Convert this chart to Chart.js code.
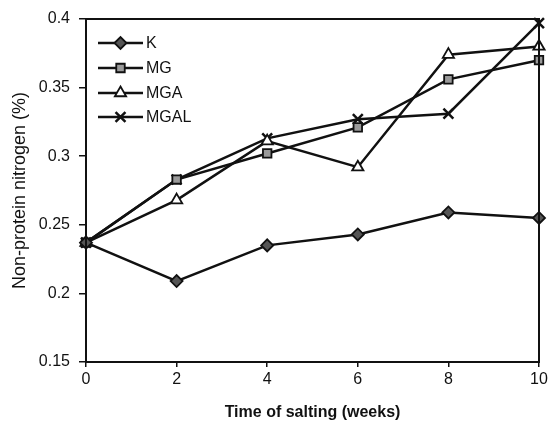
<!DOCTYPE html>
<html>
<head>
<meta charset="utf-8">
<script src="https://cdn.jsdelivr.net/npm/chart.js@4/dist/chart.umd.min.js"></script>
<style>
  html, body { margin: 0; padding: 0; background: #fff; }
  #wrap { width: 551px; height: 423px; }
</style>
</head>
<body>
<div id="wrap"><canvas id="chart" width="551" height="423"></canvas></div>
<script>
// values
const weeks = [0, 2, 4, 6, 8, 10];
const seriesNames = ['K', 'MG', 'MGA', 'MGAL'];
const valuesK = [0.237, 0.209, 0.235, 0.243, 0.259, 0.255];
const valuesMG = [0.237, 0.283, 0.302, 0.321, 0.356, 0.370];
const valuesMGA = [0.237, 0.268, 0.311, 0.292, 0.374, 0.380];
const valuesMGAL = [0.237, 0.283, 0.313, 0.327, 0.331, 0.397];
const yTickLabels = ['0.15', '0.2', '0.25', '0.3', '0.35', '0.4'];
const xTickLabels = ['0', '2', '4', '6', '8', '10'];

const FONT = "'Liberation Sans', Arial, sans-serif";
const INK = '#111';

/**
 * Marker look for each series, same order as seriesNames.
 */
const markers = [
    { pointStyle: 'rectRot', radius: 6, fill: '#555' },
    { pointStyle: 'rect', radius: 6, fill: '#9a9a9a' },
    { pointStyle: 'triangle', radius: 6.5, fill: '#fff' },
    { pointStyle: 'crossRot', radius: 7, fill: '#fff' }
];

const seriesValues = [valuesK, valuesMG, valuesMGA, valuesMGAL];

const datasets = seriesNames.map((name, i) => ({
    label: name,
    data: weeks.map((w, j) => ({ x: w, y: seriesValues[i][j] })),
    borderColor: INK,
    borderWidth: 2.5,
    pointStyle: markers[i].pointStyle,
    pointRadius: markers[i].radius,
    pointBackgroundColor: markers[i].fill,
    pointBorderColor: INK,
    pointBorderWidth: markers[i].pointStyle === 'crossRot' ? 2.5 : 1.8,
    tension: 0,
    clip: false
}));

/**
 * Draws the box round the plot and the legend inside its top left corner.
 */
const framePlugin = {
    id: 'frame',
    afterDraw(chart) {
        const { ctx, chartArea } = chart;
        const { left, top, right, bottom } = chartArea;

        ctx.save();
        ctx.strokeStyle = INK;
        ctx.lineWidth = 2;
        ctx.strokeRect(left, top, right - left, bottom - top);

        const rowY = [43, 68, 93, 117];
        const lineX0 = left + 12;
        const lineX1 = left + 57;

        seriesNames.forEach((name, i) => {
            const y = rowY[i];
            ctx.strokeStyle = INK;
            ctx.lineWidth = 2.5;
            ctx.beginPath();
            ctx.moveTo(lineX0, y);
            ctx.lineTo(lineX1, y);
            ctx.stroke();

            if (Chart.helpers && Chart.helpers.drawPoint) {
                const bw = markers[i].pointStyle === 'crossRot' ? 2.5 : 1.8;
                ctx.fillStyle = markers[i].fill;
                ctx.strokeStyle = INK;
                ctx.lineWidth = bw;
                Chart.helpers.drawPoint(ctx, {
                    pointStyle: markers[i].pointStyle,
                    radius: markers[i].radius,
                    rotation: 0,
                    borderWidth: bw
                }, (lineX0 + lineX1) / 2, y);
            }

            ctx.fillStyle = INK;
            ctx.font = `16px ${FONT}`;
            ctx.textAlign = 'left';
            ctx.textBaseline = 'middle';
            ctx.fillText(name, lineX1 + 3, y + 1);
        });
        ctx.restore();
    }
};

new Chart(document.getElementById('chart'), {
    type: 'line',
    data: { datasets },
    options: {
        responsive: false,
        animation: false,
        devicePixelRatio: 1,
        layout: { padding: { top: 19, right: 12, left: 0, bottom: 0 } },
        plugins: {
            legend: { display: false },
            tooltip: { enabled: false }
        },
        scales: {
            x: {
                type: 'linear',
                min: 0,
                max: 10,
                afterFit(scale) { scale.height = 61; },
                afterBuildTicks(scale) {
                    scale.ticks = weeks.map(v => ({ value: v }));
                },
                border: { color: INK, width: 2 },
                grid: { drawOnChartArea: false, color: INK, tickLength: 5, lineWidth: 1.5 },
                ticks: {
                    color: INK,
                    font: { family: FONT, size: 16 },
                    padding: 3,
                    callback: (v) => xTickLabels[weeks.indexOf(v)]
                },
                title: {
                    display: true,
                    text: 'Time of salting (weeks)',
                    color: INK,
                    font: { family: FONT, size: 16, weight: 'bold' },
                    padding: { top: 0, bottom: 1 }
                }
            },
            y: {
                type: 'linear',
                min: 0.15,
                max: 0.4,
                afterFit(scale) { scale.width = 86; },
                afterBuildTicks(scale) {
                    scale.ticks = yTickLabels.map(t => ({ value: parseFloat(t) }));
                },
                border: { color: INK, width: 2 },
                grid: { drawOnChartArea: false, color: INK, tickLength: 7, lineWidth: 1.5 },
                ticks: {
                    color: INK,
                    font: { family: FONT, size: 16 },
                    padding: 9,
                    callback: (v) => yTickLabels.find(t => Math.abs(parseFloat(t) - v) < 1e-9)
                },
                title: {
                    display: true,
                    text: 'Non-protein nitrogen (%)',
                    color: INK,
                    font: { family: FONT, size: 18 },
                    padding: { top: 9, bottom: 0 }
                }
            }
        }
    },
    plugins: [framePlugin]
});
</script>
</body>
</html>
